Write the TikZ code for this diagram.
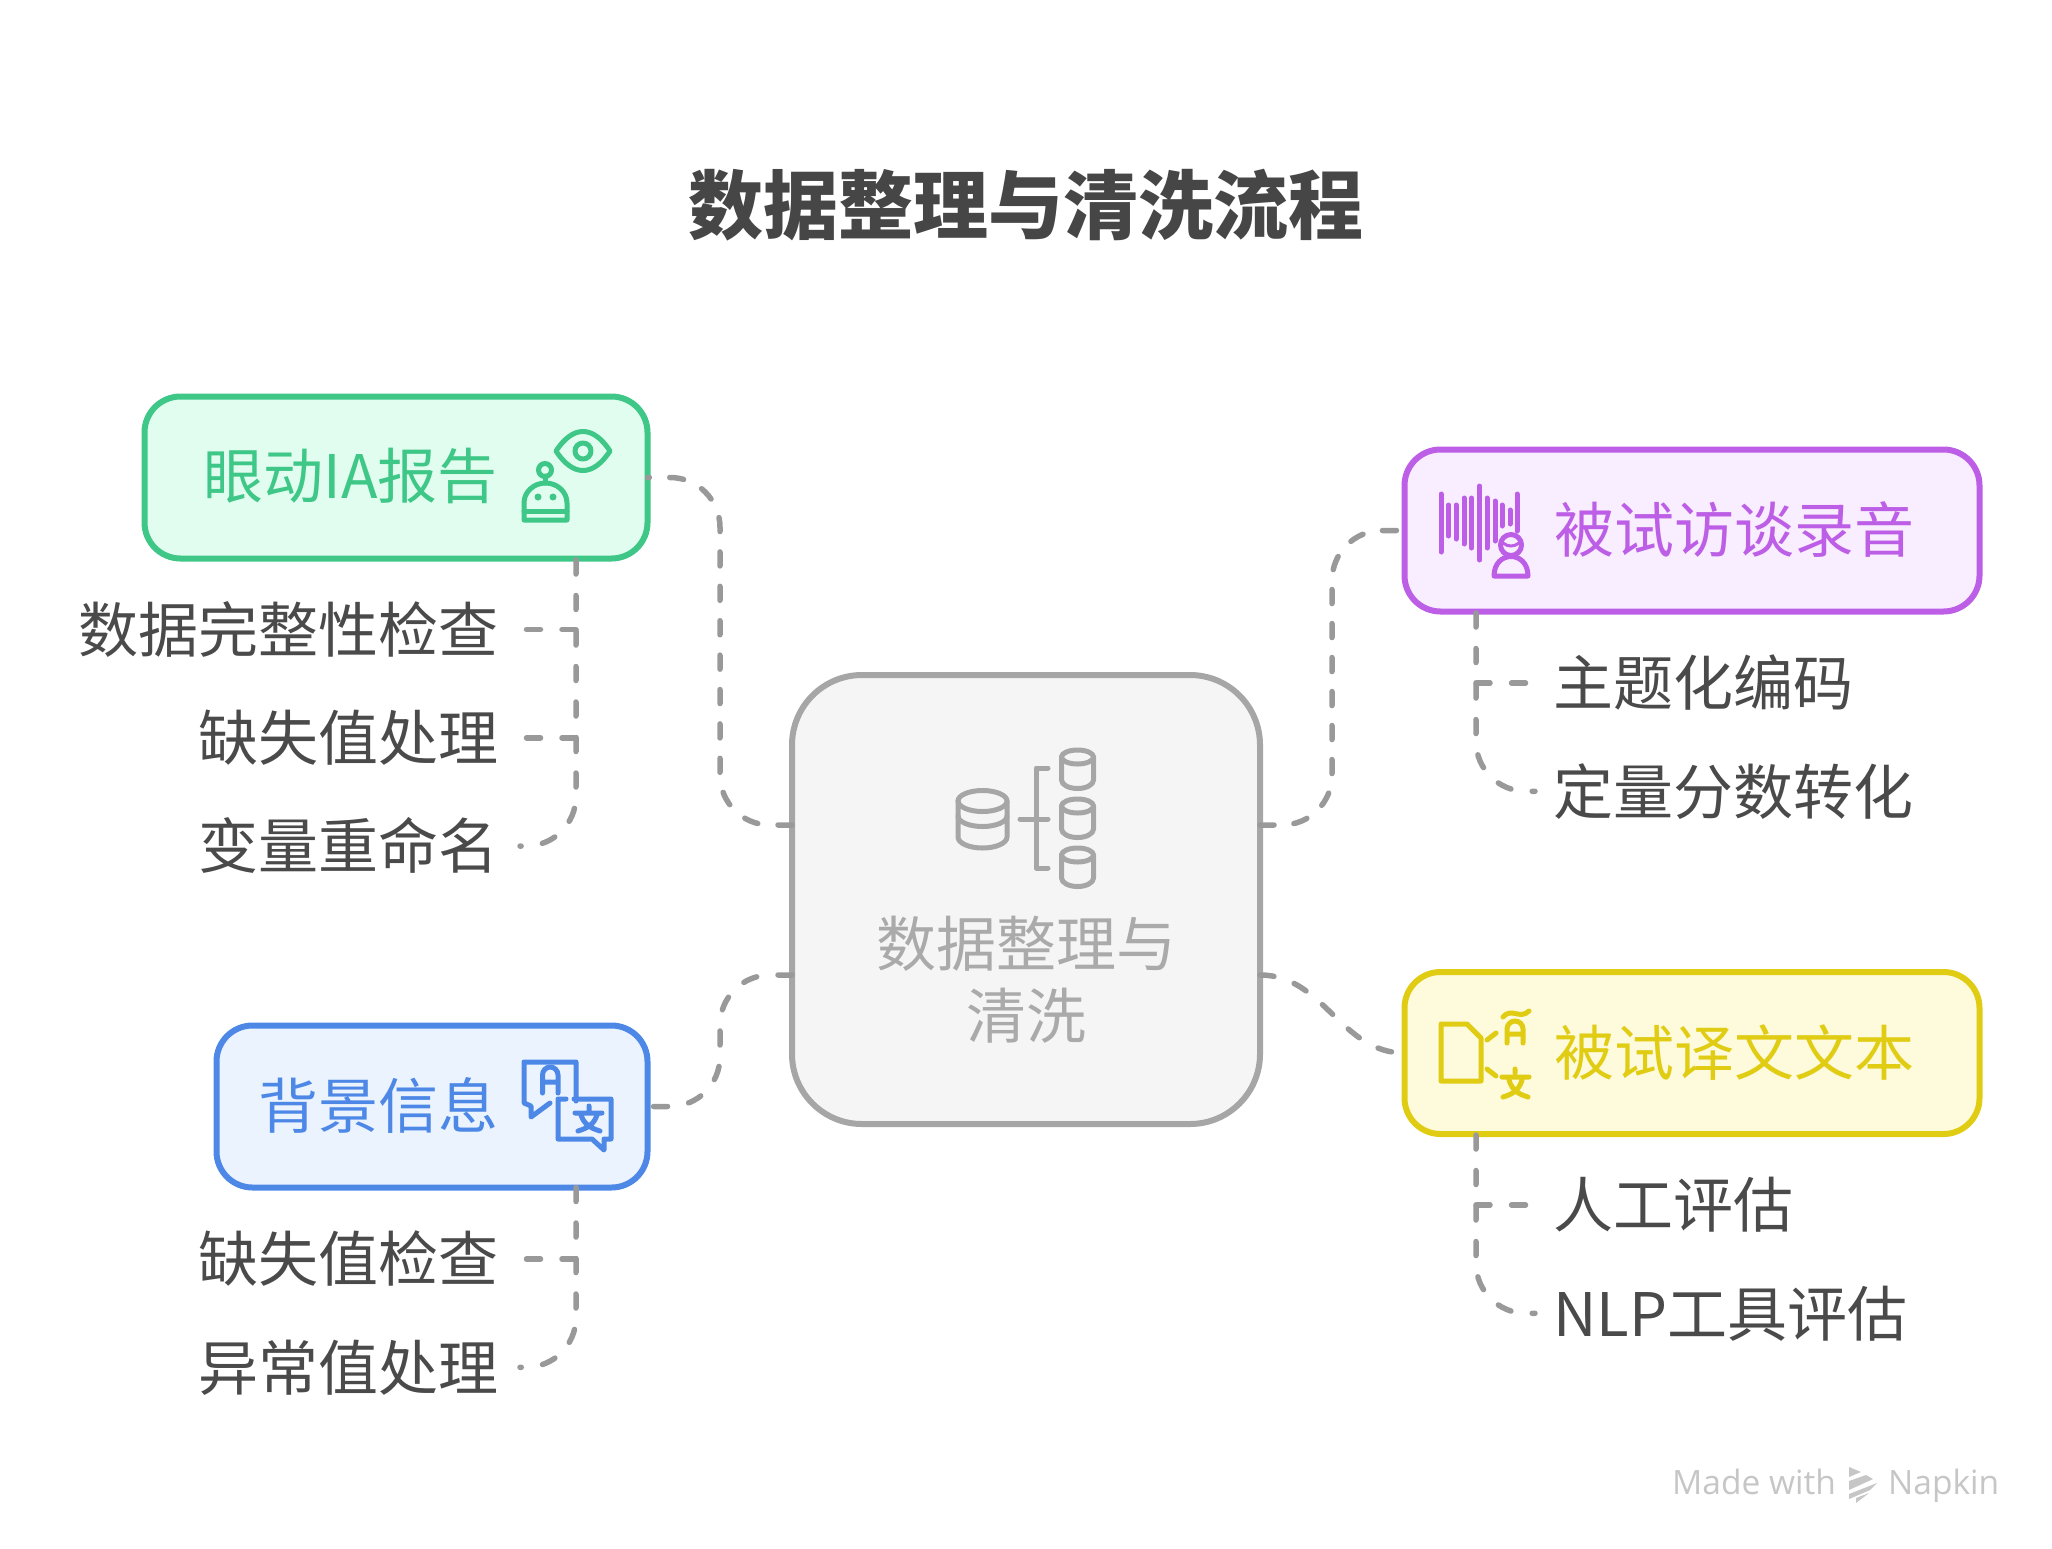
\documentclass[tikz,border=0pt]{standalone}
\usepackage{fontspec}
\setmainfont{Noto Sans CJK SC}
\newfontfamily\markfont{Open Sans}
\usetikzlibrary{positioning}
\definecolor{cgreen}{HTML}{3EC787}
\definecolor{fgreen}{HTML}{E1FDF0}
\definecolor{cblue}{HTML}{4E88E7}
\definecolor{fblue}{HTML}{EBF3FE}
\definecolor{cpurple}{HTML}{BD5FE6}
\definecolor{fpurple}{HTML}{F9EEFF}
\definecolor{cyellow}{HTML}{E1CC14}
\definecolor{fyellow}{HTML}{FEFADC}
\definecolor{cgray}{HTML}{A6A6A6}
\definecolor{fgray}{HTML}{F5F5F5}
\definecolor{cdark}{HTML}{4A4A4A}
\definecolor{cline}{HTML}{999999}
\definecolor{cmark}{HTML}{C6C6C6}
\newcommand{\bigtext}{\fontsize{60}{72}\selectfont}
\tikzstyle{box}=[rectangle,line width=6pt,inner sep=0pt,outer sep=0pt,rounded corners=36pt,minimum height=162pt]
\tikzstyle{tag}=[inner sep=0pt,font=\bigtext,text height=52.8pt,text depth=7.2pt]
\tikzstyle{leafl}=[tag,text=cdark,minimum height=60pt,outer xsep=21.7pt,outer ysep=0pt]
\tikzstyle{leafr}=[tag,text=cdark,minimum height=60pt,outer xsep=18.4pt,outer ysep=0pt]
\tikzstyle{link}=[draw=cline,line width=5.5pt,line cap=round,dash pattern=on 14pt off 21.5pt]
\tikzstyle{ico}=[line width=5pt,line cap=round,line join=round]

\begin{document}
\begin{tikzpicture}[x=1pt,y=-1pt,node distance=48.3pt]
            \useasboundingbox (0,0) rectangle (2052,1548);

            % boxes
            \node[anchor=center,font=\fontsize{75}{90}\bfseries\selectfont,text=cdark!95!black] (title) at (1026,205) {数据整理与清洗流程};
            \node[box,draw=cgray,fill=fgray,minimum width=468pt,minimum height=449pt,rounded corners=70pt] (core) at (1026,899.5) {};
            \node[box,draw=cgreen,fill=fgreen,minimum width=503pt] (eye) at (396,477.5) {};
            \node[box,draw=cblue,fill=fblue,minimum width=431pt] (bg) at (432,1106.5) {};
            \node[box,draw=cpurple,fill=fpurple,minimum width=575pt] (aud) at (1692,530.5) {};
            \node[box,draw=cyellow,fill=fyellow,minimum width=575pt] (txt) at (1692,1053) {};

            \node[align=center,inner sep=0pt,font=\bigtext,text=cgray!95!white] (corelabel) at (1026,979.5) {数据整理与\\清洗};
            \node[tag,anchor=east,text=cgreen] (eyelabel) at (498,476) {眼动IA报告};
            \node[tag,anchor=east,text=cblue] (bglabel) at (498.5,1106) {背景信息};
            \node[tag,anchor=west,text=cpurple] (audlabel) at (1554,530) {被试访谈录音};
            \node[tag,anchor=west,text=cyellow] (txtlabel) at (1554,1053) {被试译文文本};

            % leaves
            \node[leafl,anchor=east] (l1) at (520,629.5) {数据完整性检查};
            \node[leafl,below=of l1.south east,anchor=north east] (l2) {缺失值处理};
            \node[leafl,below=of l2.south east,anchor=north east] (l3) {变量重命名};
            \node[leafl,anchor=east] (l4) at (520,1259) {缺失值检查};
            \node[leafl,below=of l4.south east,anchor=north east] (l5) {异常值处理};
            \node[leafr,anchor=west] (r1) at (1535,683) {主题化编码};
            \node[leafr,below=of r1.south west,anchor=north west] (r2) {定量分数转化};
            \node[leafr,anchor=west] (r3) at (1535,1205) {人工评估};
            \node[leafr,below=of r3.south west,anchor=north west] (r4) {NLP工具评估};

            % connections of the centre
            \coordinate (cl1) at (792,825);
            \coordinate (cl2) at (792,975);
            \coordinate (cr1) at (1260,825);
            \coordinate (cr2) at (1260,975);
            \coordinate (ml) at (720,800);
            \coordinate (mr) at (1332,800);

            \draw[link,rounded corners=50pt,dash pattern=on 14pt off 20.4pt] (cl1) -| (eye.east -| ml) -- (eye.east);
            \draw[link,rounded corners=50pt] (cl2) -| (bg.east -| ml) -- (bg.east);
            \draw[link,rounded corners=50pt,dash pattern=on 14pt off 20pt] (cr1) -| (aud.west -| mr) -- (aud.west);
            \path[link] (cr2) edge[out=0,in=180] (txt.west);

            % connections of the leaves
            \coordinate (t1) at (576,560);
            \coordinate (t2) at (576,1187.5);
            \coordinate (t3) at (1476,613);
            \coordinate (t4) at (1476,1135);

            \draw[link,rounded corners=50pt] (t1) |- (l3.east);
            \draw[link] (l1.east -| t1) -- (l1.east);
            \draw[link] (l2.east -| t1) -- (l2.east);
            \draw[link,rounded corners=50pt] (t2) |- (l5.east);
            \draw[link] (l4.east -| t2) -- (l4.east);
            \draw[link,rounded corners=50pt] (t3) |- (r2.west);
            \draw[link] (r1.west -| t3) -- (r1.west);
            \draw[link,rounded corners=50pt] (t4) |- (r4.west);
            \draw[link] (r3.west -| t4) -- (r3.west);

            % core icon
            \draw[ico,cgray] (982.5,801) ellipse [x radius=24.5,y radius=10.5];
            \draw[ico,cgray] (958,801) -- (958,837) arc [start angle=180,end angle=0,x radius=24.5,y radius=11] -- (1007,801);
            \draw[ico,cgray] (958,816) arc [start angle=180,end angle=0,x radius=24.5,y radius=10.5];
            \draw[ico,cgray] (1048,768) -- (1036,768) -- (1036,868) -- (1048,868) (1020,819) -- (1048,819);
            \draw[ico,cgray] (1077.5,757) ellipse [x radius=16,y radius=7] (1077.5,806) ellipse [x radius=16,y radius=7] (1077.5,855) ellipse [x radius=16,y radius=7];
            \draw[ico,cgray] (1061.5,757) -- (1061.5,780) arc [start angle=180,end angle=0,x radius=16,y radius=8.5] -- (1093.5,757);
            \draw[ico,cgray] (1061.5,806) -- (1061.5,829) arc [start angle=180,end angle=0,x radius=16,y radius=8.5] -- (1093.5,806);
            \draw[ico,cgray] (1061.5,855) -- (1061.5,878) arc [start angle=180,end angle=0,x radius=16,y radius=8.5] -- (1093.5,855);

            % eye and robot icon
            \draw[ico,cgreen] (556,451) .. controls (573,425) and (593,425) .. (610,451) .. controls (593,477) and (573,477) .. (556,451) -- cycle;
            \draw[ico,cgreen] (583,451) circle [radius=8];
            \draw[ico,cgreen] (545,470) circle [radius=6.5];
            \draw[ico,cgreen] (545,476) -- (545,483);
            \draw[ico,cgreen] (524,520) -- (524,503) arc [start angle=180,end angle=360,x radius=21.5,y radius=20] -- (567,520) -- cycle;
            \draw[ico,cgreen] (524,511) -- (567,511);
            \fill[cgreen] (538,497) circle [radius=3.5] (553,497) circle [radius=3.5];

            % speech bubbles icon
            \draw[ico,cblue] (576,1101) -- (576,1062) -- (524,1062) -- (524,1103) -- (531,1106) -- (531,1117) -- (550,1103);
            \draw[ico,cblue] (566,1099) -- (558,1099) -- (558,1139) -- (592,1139) -- (604,1150) -- (604,1139) -- (611,1139) -- (611,1099) -- (574,1099);
            \draw[ico,cblue] (542.5,1093) -- (542.5,1075) arc [start angle=180,end angle=360,x radius=7.75,y radius=8] -- (558,1093) (542.5,1082) -- (558,1082);
            \draw[ico,cblue] (589,1106) -- (589,1110) (575,1113) -- (602,1113) (581,1115) .. controls (584,1124) and (590,1128) .. (600,1131) (597,1115) .. controls (594,1124) and (588,1128) .. (578,1131);

            % sound and person icon
            \draw[line width=5pt,line cap=round,cpurple] (1441,494) -- (1441,552) (1448.5,505) -- (1448.5,536) (1456,505) -- (1456,539) (1464,498) -- (1464,544) (1471.5,498) -- (1471.5,548) (1479.5,486) -- (1479.5,560) (1487,498) -- (1487,548) (1495,501) -- (1495,541) (1502,505) -- (1502,526) (1510,510) -- (1510,524) (1517,494) -- (1517,531);
            \draw[ico,cpurple,fill=fpurple] (1511,545) circle [radius=10.5];
            \draw[line width=3pt,line cap=round,cpurple] (1503,543) .. controls (1508,547) and (1514,547) .. (1519,543);
            \draw[ico,cpurple] (1494,576) .. controls (1494,550) and (1528,550) .. (1528,576) -- cycle;

            % document and glyphs icon
            \draw[ico,cyellow] (1441,1024) -- (1467,1024) -- (1481,1038) -- (1481,1081) -- (1441,1081) -- cycle;
            \draw[ico,cyellow] (1487,1040) -- (1496,1033) (1487,1069) -- (1496,1076);
            \draw[ico,cyellow] (1507,1043) -- (1507,1029) arc [start angle=180,end angle=360,x radius=8,y radius=8] -- (1523,1043) (1507,1034) -- (1523,1034);
            \draw[ico,cyellow] (1503,1017) .. controls (1511,1007) and (1520,1020) .. (1529,1011);
            \draw[ico,cyellow] (1515,1069) -- (1515,1073) (1502,1077) -- (1529,1077) (1509,1080) .. controls (1512,1090) and (1518,1094) .. (1528,1097) (1522,1080) .. controls (1519,1090) and (1513,1094) .. (1503,1097);

            % made with
            \node[anchor=base west,inner sep=0pt,font=\markfont\fontsize{33.5}{38}\selectfont,text=cmark] (made) at (1672,1494) {Made with};
            \node[anchor=base west,inner sep=0pt,font=\markfont\fontsize{33.5}{38}\selectfont,text=cmark] (napkin) at (1888,1494) {Napkin};
            \fill[cmark] (1849,1467) -- (1861,1472) -- (1849,1477) -- cycle (1849,1481) -- (1866,1475) -- (1873,1479) -- (1849,1490) -- cycle (1849,1494) -- (1877,1483) -- (1870,1490) -- (1849,1499) -- cycle (1856,1503) -- (1869,1493) -- (1856,1498) -- cycle;
\end{tikzpicture}
\end{document}
